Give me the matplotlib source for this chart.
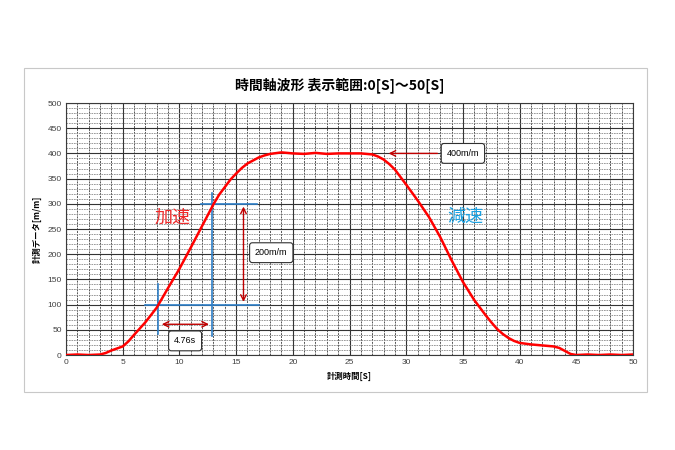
import matplotlib
matplotlib.use("Agg")
import matplotlib.pyplot as plt
from matplotlib.patches import Rectangle
from matplotlib.ticker import MultipleLocator
import numpy as np

plt.rcParams['font.family'] = ['Noto Sans CJK JP', 'DejaVu Sans']

title = "時間軸波形 表示範囲:0[S]～50[S]"
xlabel = "計測時間[S]"
ylabel = "計測データ[m/m]"

t = [0, 1, 2, 3, 3.5, 4, 4.5, 5, 5.5, 6, 7, 8, 9, 10, 11, 12, 13, 13.5, 14, 14.5, 15, 15.5, 16,
     17, 17.5, 18, 19, 20, 21, 22, 23, 24, 25, 26, 27, 27.5, 28, 28.5, 29, 30, 31, 32, 33, 34,
     35, 36, 37, 37.5, 38, 38.5, 39, 39.5, 40, 41, 42, 43, 43.5, 44, 44.5, 45, 46, 47, 48, 49, 50]
v = [0, 1, 0, 1, 4, 9, 13, 17, 27, 40, 65, 94, 133, 171, 213, 256, 299, 318, 333, 348, 360, 371, 380,
     392, 396, 399, 402, 400, 399, 401, 399, 400, 400, 400, 398, 394, 388, 379, 368, 338, 307, 274, 234, 188,
     145, 109, 79, 65, 52, 42, 34, 28, 24, 21, 19, 17, 14, 8, 2, 0, 1, 0, 1, 0, 1]

# annotation values
lvl_low, lvl_high = 100, 300
t_low, t_high = 8.15, 12.9
dt_label = "4.76s"
dv_label = "200m/m"
flat_label = "400m/m"
acc_label = "加速"
dec_label = "減速"

fig = plt.figure(figsize=(6.75, 4.5), dpi=100)
fig.patches.append(Rectangle((0.0356, 0.1289), 0.923, 0.72, transform=fig.transFigure,
                             fill=False, edgecolor='#c8c8c8', linewidth=0.8))
ax = fig.add_axes([0.0978, 0.2111, 0.84, 0.56])

ax.set_xlim(0, 50)
ax.set_ylim(0, 500)
ax.xaxis.set_major_locator(MultipleLocator(5))
ax.xaxis.set_minor_locator(MultipleLocator(1))
ax.yaxis.set_major_locator(MultipleLocator(50))
ax.yaxis.set_minor_locator(MultipleLocator(10))
ax.yaxis.grid(which='minor', color='#8a8a8a', linewidth=0.6, linestyle=(0, (2, 1)))
ax.xaxis.grid(which='minor', color='#555555', linewidth=0.7, linestyle=(0, (2, 1)))
ax.grid(which='major', color='#333333', linewidth=0.8)
ax.set_axisbelow(True)
ax.tick_params(which='both', length=0, labelsize=6, labelcolor='#404040', pad=3)
for s in ax.spines.values():
    s.set_color('#3a3a3a')
    s.set_linewidth(0.8)

ax.plot(t, v, color='#ff0000', linewidth=1.8, zorder=5)

blue = '#2e7fc8'
ax.plot([7, 17], [lvl_low, lvl_low], color=blue, linewidth=1.2, zorder=4)
ax.plot([11.9, 16.8], [lvl_high, lvl_high], color=blue, linewidth=1.2, zorder=4)
ax.plot([t_low, t_low], [41, 141], color=blue, linewidth=1.2, zorder=4)
ax.plot([t_high, t_high], [38, 322], color=blue, linewidth=1.2, zorder=4)

dred = '#c00000'
ax.annotate('', xy=(t_low + 0.05, 61), xytext=(t_high - 0.05, 61),
            arrowprops=dict(arrowstyle='<->', color=dred, lw=1.0), zorder=6)
ax.annotate('', xy=(15.65, lvl_high), xytext=(15.65, lvl_low),
            arrowprops=dict(arrowstyle='<->', color=dred, lw=1.0), zorder=6)
ax.annotate('', xy=(28.2, 400), xytext=(33.0, 400),
            arrowprops=dict(arrowstyle='->', color=dred, lw=1.0), zorder=6)

box = dict(boxstyle='round,pad=0.6,rounding_size=0.3', fc='white', ec='#303030', lw=0.8)
fam = ['Liberation Sans', 'DejaVu Sans']
ax.text(10.5, 28, dt_label, fontsize=6.5, ha='center', va='center', bbox=box, zorder=7, family=fam)
ax.text(18.1, 203, dv_label, fontsize=6.5, ha='center', va='center', bbox=box, zorder=7, family=fam)
ax.text(35.0, 400, flat_label, fontsize=6.5, ha='center', va='center', bbox=box, zorder=7, family=fam)

ax.text(9.4, 272, acc_label, fontsize=13, color='#ee2a2a', ha='center', va='center', zorder=7)
ax.text(35.2, 274, dec_label, fontsize=13, color='#1aa0e0', ha='center', va='center', zorder=7)

for lab in ax.get_xticklabels() + ax.get_yticklabels():
    lab.set_family(fam)

ax.set_xlabel(xlabel, fontsize=6, fontweight='bold', labelpad=4)
ax.set_ylabel(ylabel, fontsize=6, fontweight='bold', labelpad=4)
fig.text(0.503, 0.811, title, fontsize=10, fontweight='bold', ha='center', va='center')

fig.savefig('out.png', dpi=100)
